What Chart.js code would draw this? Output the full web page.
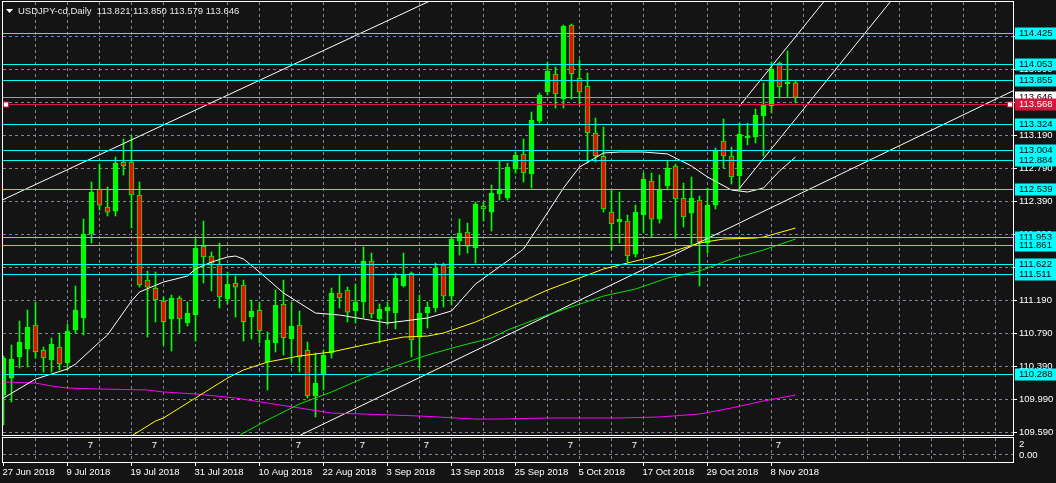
<!DOCTYPE html>
<html>
<head>
<meta charset="utf-8">
<title>USDJPY-cd,Daily</title>
<script src="https://cdn.jsdelivr.net/npm/chart.js@4.4.1/dist/chart.umd.min.js"></script>
<style>
    html, body { margin: 0; padding: 0; background: #141414; }
    canvas { display: block; }
</style>
</head>
<body>
<canvas id="chart" width="1056" height="483"></canvas>
<script>
const SYMBOL = 'USDJPY-cd,Daily';

// daily candles, 27 Jun 2018 .. 13 Nov 2018 (bar index 0..99)
const opens = [
    110.038, 110.244, 110.499, 110.596, 110.887, 110.584, 110.463, 110.620, 110.426, 110.826,
    110.972, 111.990, 112.535, 112.317, 112.268, 112.863, 112.863, 112.463, 111.432, 111.335,
    111.178, 110.960, 111.214, 110.911, 111.008, 111.844, 111.723, 111.626, 111.202, 111.396,
    111.372, 110.984, 111.069, 110.438, 110.669, 111.141, 110.717, 110.887, 110.584, 110.026,
    110.293, 110.547, 111.275, 111.311, 111.057, 111.166, 111.662, 110.960, 111.057, 111.032,
    111.360, 111.517, 110.741, 111.032, 111.093, 111.614, 111.238, 111.905, 112.014, 111.820,
    112.329, 112.256, 112.475, 112.426, 112.778, 112.960, 112.717, 113.360, 113.711, 113.929,
    113.626, 114.523, 113.881, 113.784, 113.214, 112.935, 112.256, 112.135, 112.147, 111.747,
    112.220, 112.632, 112.171, 112.572, 112.814, 112.426, 112.244, 112.402, 111.881, 112.341,
    113.117, 112.935, 112.693, 113.154, 113.166, 113.420, 113.542, 114.063, 113.808, 113.821
];
const highs = [
    110.511, 110.644, 110.935, 111.069, 111.166, 110.620, 110.729, 110.790, 110.899, 111.360,
    112.171, 112.620, 112.838, 112.560, 112.923, 113.141, 113.178, 112.620, 111.541, 111.529,
    111.226, 111.250, 111.238, 111.166, 111.953, 112.147, 111.772, 111.881, 111.529, 111.481,
    111.432, 111.190, 111.166, 110.802, 111.311, 111.432, 111.166, 111.057, 110.681, 110.547,
    110.584, 111.335, 111.493, 111.347, 111.384, 111.832, 111.759, 111.141, 111.166, 111.517,
    111.759, 111.529, 111.250, 111.166, 111.638, 111.638, 111.953, 112.171, 112.123, 112.378,
    112.378, 112.584, 112.875, 112.850, 112.984, 113.141, 113.469, 113.699, 114.075, 114.014,
    114.523, 114.535, 114.099, 113.941, 113.396, 113.287, 112.523, 112.499, 112.220, 112.341,
    112.729, 112.729, 112.705, 112.875, 112.838, 112.608, 112.681, 112.450, 112.548, 113.032,
    113.384, 113.044, 113.335, 113.335, 113.505, 113.820, 114.075, 114.075, 114.208, 113.850
];
const lows = [
    109.675, 109.954, 110.366, 110.378, 110.487, 110.317, 110.317, 110.342, 110.342, 110.790,
    110.766, 111.881, 112.281, 112.208, 112.208, 112.705, 112.062, 111.347, 110.741, 110.923,
    110.644, 110.572, 110.790, 110.875, 110.693, 111.396, 111.299, 111.093, 111.141, 110.984,
    110.693, 110.717, 110.669, 110.099, 110.560, 110.523, 110.426, 110.317, 110.002, 109.772,
    110.099, 110.487, 111.093, 110.923, 110.911, 110.972, 110.972, 110.669, 110.887, 110.838,
    111.347, 110.499, 110.366, 110.850, 111.044, 111.105, 111.129, 111.735, 111.759, 111.638,
    112.147, 112.026, 112.402, 112.402, 112.729, 112.620, 112.548, 113.335, 113.675, 113.517,
    113.517, 113.626, 113.554, 112.850, 112.863, 112.256, 111.796, 111.881, 111.650, 111.711,
    112.002, 111.953, 112.123, 112.523, 111.941, 112.075, 111.856, 111.360, 111.759, 112.293,
    112.790, 112.596, 112.523, 113.069, 113.093, 112.935, 113.457, 113.638, 113.651, 113.579
];
const closes = [
    110.487, 110.475, 110.681, 110.863, 110.560, 110.487, 110.657, 110.414, 110.814, 111.069,
    111.990, 112.499, 112.341, 112.256, 112.850, 112.814, 112.463, 111.372, 111.347, 111.190,
    110.923, 111.214, 110.960, 111.032, 111.820, 111.711, 111.638, 111.226, 111.384, 111.347,
    110.923, 111.057, 110.814, 110.705, 111.129, 110.729, 110.875, 110.499, 110.026, 110.184,
    110.523, 111.275, 111.214, 111.044, 111.166, 111.662, 111.020, 111.081, 111.105, 111.456,
    111.493, 110.705, 111.032, 111.105, 111.578, 111.238, 111.929, 112.002, 111.844, 112.353,
    112.293, 112.487, 112.535, 112.802, 112.947, 112.729, 113.372, 113.675, 113.966, 113.687,
    114.511, 113.929, 113.711, 113.214, 112.935, 112.293, 112.111, 112.171, 111.723, 112.256,
    112.657, 112.171, 112.535, 112.790, 112.414, 112.196, 112.426, 111.893, 112.341, 113.008,
    112.935, 112.681, 113.202, 113.178, 113.432, 113.554, 113.990, 113.772, 113.832, 113.646
];

// moving averages (bar index / price)
const maWhiteBars = [0, 4, 8, 9, 12, 13, 16, 17, 20, 22, 23, 24, 26, 28, 29, 30, 32, 35, 39, 42, 45, 48, 50, 53, 56, 59, 63, 65, 67, 70, 72, 75, 77, 80, 83, 86, 88, 91, 93, 95, 97, 99];
const maWhiteVals = [110.002, 110.232, 110.354, 110.414, 110.681, 110.766, 111.178, 111.287, 111.408, 111.456, 111.481, 111.566, 111.650, 111.711, 111.723, 111.687, 111.529, 111.275, 111.032, 111.008, 110.960, 110.911, 110.935, 110.972, 111.057, 111.384, 111.662, 111.808, 112.099, 112.548, 112.802, 112.972, 112.984, 112.984, 112.960, 112.814, 112.681, 112.523, 112.499, 112.548, 112.754, 112.923];
const maYellowBars = [15, 19, 20, 24, 28, 30, 33, 37, 41, 45, 48, 50, 53, 55, 59, 63, 68, 75, 77, 83, 87, 90, 94, 95, 99];
const maYellowVals = [109.481, 109.723, 109.760, 110.002, 110.244, 110.342, 110.438, 110.511, 110.560, 110.644, 110.705, 110.741, 110.753, 110.790, 110.923, 111.093, 111.311, 111.566, 111.614, 111.759, 111.881, 111.929, 111.941, 111.953, 112.062];
const maGreenBars = [29, 30, 33, 37, 41, 45, 49, 53, 57, 61, 63, 68, 75, 79, 83, 87, 91, 95, 99];
const maGreenVals = [109.517, 109.578, 109.736, 109.930, 110.075, 110.244, 110.390, 110.523, 110.632, 110.729, 110.826, 111.008, 111.238, 111.323, 111.456, 111.541, 111.687, 111.796, 111.929];
const maMagentaBars = [0, 4, 6, 8, 12, 18, 20, 24, 29, 33, 37, 41, 45, 52, 59, 62, 68, 77, 82, 87, 91, 95, 99];
const maMagentaVals = [110.196, 110.184, 110.147, 110.123, 110.111, 110.099, 110.075, 110.051, 110.002, 109.941, 109.881, 109.820, 109.808, 109.784, 109.747, 109.747, 109.760, 109.760, 109.772, 109.808, 109.881, 109.966, 110.038];

// trend lines: [startBar, endBar], [startPrice, endPrice]
const trendBars = [[-1, 60], [36, 130], [92, 104], [92, 112]];
const trendVals = [[112.364, 115.117], [109.500, 113.904], [113.541, 114.981], [112.544, 114.942]];

// horizontal levels
const levelPrices = [114.425, 114.053, 113.855, 113.324, 113.004, 112.884, 112.539, 111.953, 111.861, 111.622, 111.511, 110.288];
const redLevel = 113.568;
const bidPrice = closes[closes.length - 1];

// axes
const gridPrices = [109.590, 109.990, 110.390, 110.790, 111.190, 111.590, 111.990, 112.390, 112.790, 113.190, 113.590, 113.990, 114.390];
const gridBars = [4, 8, 12, 16, 20, 24, 28, 32, 36, 40, 44, 48, 52, 56, 60, 64, 68, 72, 76, 80, 84, 88, 92, 96, 100, 104, 108, 112, 116, 120, 124];
const dateBars = [0, 8, 16, 24, 32, 40, 48, 56, 64, 72, 80, 88, 96];
const dateLabels = ['27 Jun 2018', '9 Jul 2018', '19 Jul 2018', '31 Jul 2018', '10 Aug 2018', '22 Aug 2018', '3 Sep 2018', '13 Sep 2018', '25 Sep 2018', '5 Oct 2018', '17 Oct 2018', '29 Oct 2018', '8 Nov 2018'];
const subLabelBars = [11, 19, 37, 45, 53, 71, 79, 97];
const subLabelText = '7';

const X_MIN = -0.0625, X_MAX = 126.1875;
const Y_MIN = 109.5537, Y_MAX = 114.8022;

const GRID = '#7a8696';
const BULL = '#00ff00';
const BEAR = '#ff0000';
const CYAN = '#00ffff';
const CRIMSON = '#dc143c';
const FONT = '9.5px "Liberation Sans", Arial, sans-serif';
const SUB_TOP = 438, SUB_BOTTOM = 462, SUB_ZERO = 454;

function points(bars, vals) {
    return bars.map((k, i) => ({ x: k, y: vals[i] }));
}

function lineSet(label, data, color) {
    return {
        type: 'line', label: label, data: data,
        borderColor: color, borderWidth: 1, pointRadius: 0, tension: 0, order: 0
    };
}

const barIndex = closes.map((c, k) => k);

const datasets = [
    lineSet('MA white', points(maWhiteBars, maWhiteVals), '#ffffff'),
    lineSet('MA yellow', points(maYellowBars, maYellowVals), '#ffff00'),
    lineSet('MA green', points(maGreenBars, maGreenVals), '#00e400'),
    lineSet('MA magenta', points(maMagentaBars, maMagentaVals), '#ff00ff'),
    ...trendBars.map((b, i) => lineSet('trend ' + i, points(b, trendVals[i]), '#ffffff')),
    {
        type: 'bar', label: 'bodies',
        data: barIndex.map(k => ({ x: k, y: [opens[k], closes[k]] })),
        backgroundColor: barIndex.map(k => closes[k] >= opens[k] ? BULL : BEAR),
        borderColor: BULL, borderWidth: 1, borderSkipped: false,
        barThickness: 5, grouped: false, order: 1
    },
    {
        type: 'bar', label: 'wicks',
        data: barIndex.map(k => ({ x: k, y: [lows[k], highs[k]] })),
        backgroundColor: BULL, borderWidth: 0,
        barThickness: 1, grouped: false, order: 2
    }
];

function labelBox(ctx, text, py, bg, fg) {
    ctx.fillStyle = bg;
    ctx.fillRect(1015, py - 6, 41, 12);
    ctx.fillStyle = fg;
    ctx.fillText(text, 1019, py);
}

const mt4Frame = {
    id: 'mt4Frame',
    beforeDatasetsDraw(chart) {
        const { ctx, chartArea: a, scales: { x, y } } = chart;
        ctx.save();
        ctx.strokeStyle = GRID;
        ctx.lineWidth = 1;
        ctx.setLineDash([3, 3]);
        ctx.beginPath();
        gridPrices.forEach(p => {
            const py = Math.round(y.getPixelForValue(p)) + 0.5;
            ctx.moveTo(a.left, py);
            ctx.lineTo(a.right, py);
        });
        gridBars.forEach(k => {
            const px = Math.floor(x.getPixelForValue(k)) + 0.5;
            ctx.moveTo(px, a.top);
            ctx.lineTo(px, a.bottom);
            ctx.moveTo(px, SUB_TOP);
            ctx.lineTo(px, SUB_BOTTOM);
        });
        ctx.moveTo(a.left, SUB_ZERO + 0.5);
        ctx.lineTo(a.right, SUB_ZERO + 0.5);
        ctx.stroke();
        ctx.restore();
    },
    afterDatasetsDraw(chart) {
        const { ctx, chartArea: a, scales: { x, y } } = chart;
        const row = p => Math.round(y.getPixelForValue(p)) + 0.5;
        ctx.save();
        ctx.lineWidth = 1;

        // horizontal levels
        ctx.strokeStyle = CYAN;
        ctx.beginPath();
        levelPrices.forEach(p => {
            ctx.moveTo(a.left, row(p));
            ctx.lineTo(a.right, row(p));
        });
        ctx.stroke();

        ctx.strokeStyle = '#9c9c9c';
        ctx.beginPath();
        ctx.moveTo(a.left, row(bidPrice));
        ctx.lineTo(a.right, row(bidPrice));
        ctx.stroke();

        const redY = row(redLevel);
        ctx.strokeStyle = CRIMSON;
        ctx.beginPath();
        ctx.moveTo(a.left, redY);
        ctx.lineTo(a.right, redY);
        ctx.stroke();
        [a.left + 0.5, a.right - 5.5].forEach(mx => {
            ctx.fillStyle = '#ffffff';
            ctx.fillRect(mx, redY - 2.5, 5, 5);
            ctx.strokeRect(mx, redY - 2.5, 5, 5);
        });

        // frames
        ctx.strokeStyle = '#ffffff';
        ctx.strokeRect(a.left - 0.5, a.top - 0.5, a.right - a.left + 1, a.bottom - a.top + 1);
        ctx.strokeRect(a.left - 0.5, SUB_TOP - 0.5, a.right - a.left + 1, SUB_BOTTOM - SUB_TOP + 1);

        // price axis
        ctx.font = FONT;
        ctx.textBaseline = 'middle';
        ctx.textAlign = 'left';
        ctx.beginPath();
        gridPrices.forEach(p => {
            ctx.moveTo(a.right + 1, row(p));
            ctx.lineTo(a.right + 4, row(p));
        });
        ctx.stroke();
        ctx.fillStyle = '#ffffff';
        gridPrices.forEach(p => ctx.fillText(p.toFixed(3), 1019, row(p)));
        levelPrices.forEach(p => labelBox(ctx, p.toFixed(3), row(p), CYAN, '#000000'));
        labelBox(ctx, bidPrice.toFixed(3), row(bidPrice), '#ffffff', '#000000');
        labelBox(ctx, redLevel.toFixed(3), redY, CRIMSON, '#ffffff');

        // sub window
        ctx.fillStyle = '#ffffff';
        ctx.fillText('2', 1019, 444);
        ctx.fillText('0.00', 1019, 455);
        ctx.textAlign = 'center';
        subLabelBars.forEach(k => ctx.fillText(subLabelText, x.getPixelForValue(k) - 1, 445));

        // time axis
        ctx.textAlign = 'left';
        ctx.beginPath();
        dateBars.forEach(k => {
            const px = Math.floor(x.getPixelForValue(k)) + 0.5;
            ctx.moveTo(px, SUB_BOTTOM);
            ctx.lineTo(px, SUB_BOTTOM + 4);
        });
        ctx.stroke();
        dateBars.forEach((k, i) => ctx.fillText(dateLabels[i], x.getPixelForValue(k) - 1, 472));

        // title
        const last = closes.length - 1;
        ctx.fillStyle = '#ffffff';
        ctx.beginPath();
        ctx.moveTo(6, 9);
        ctx.lineTo(13, 9);
        ctx.lineTo(9.5, 13);
        ctx.closePath();
        ctx.fill();
        ctx.fillStyle = '#e6e6e6';
        const ohlc = [opens[last], highs[last], lows[last], closes[last]].map(v => v.toFixed(3)).join(' ');
        ctx.fillText(SYMBOL + '  ' + ohlc, 18, 11);
        ctx.restore();
    }
};

const ctx = document.getElementById('chart').getContext('2d');
new Chart(ctx, {
    type: 'bar',
    data: { datasets: datasets },
    options: {
        responsive: false,
        animation: false,
        devicePixelRatio: 1,
        events: [],
        layout: { padding: { left: 3, right: 43, top: 2, bottom: 48 } },
        plugins: { legend: { display: false }, tooltip: { enabled: false } },
        scales: {
            x: { type: 'linear', display: false, min: X_MIN, max: X_MAX, offset: false, grid: { offset: false } },
            y: { type: 'linear', display: false, min: Y_MIN, max: Y_MAX, beginAtZero: false }
        }
    },
    plugins: [mt4Frame]
});
</script>
</body>
</html>
